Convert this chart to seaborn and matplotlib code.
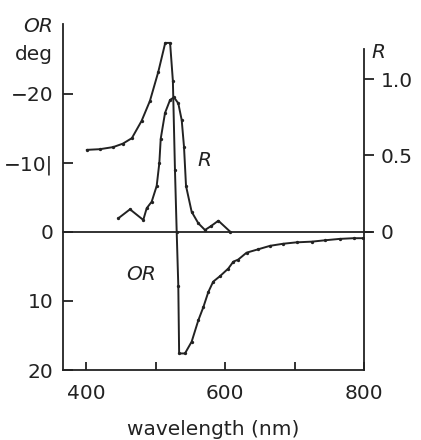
import numpy as np
import matplotlib
matplotlib.use("Agg")
import matplotlib.pyplot as plt
import seaborn as sns

# optical rotation (deg) vs wavelength
or_wavelength = [401, 420, 439, 453, 466, 480, 492, 504, 514, 521, 525, 528, 530.5,
                 532.8, 534, 542.4, 552, 561.6, 568.8, 576, 583, 592.8, 604.7, 612,
                 619, 631, 648, 665, 684, 703, 725, 744, 765, 785, 799]
or_values = [-11.9, -12.0, -12.3, -12.8, -13.6, -16.1, -19.0, -23.2, -27.4, -27.4,
             -21.9, -9.0, 0.0, 7.8, 17.6, 17.6, 15.9, 12.8, 10.9, 8.7, 7.2, 6.4,
             5.3, 4.3, 4.0, 3.0, 2.5, 2.0, 1.7, 1.5, 1.4, 1.2, 1.0, 0.9, 0.9]

# reflectance vs wavelength
r_wavelength = [446.5, 463.3, 482.4, 487.3, 494.5, 501.7, 505.5, 507.5, 513.7, 520.9,
                526.6, 532.8, 537.7, 541, 543.9, 552, 561.6, 571.2, 580, 590.4, 607.2]
r_values = [0.087, 0.146, 0.076, 0.153, 0.196, 0.30, 0.45, 0.61, 0.78, 0.865,
            0.883, 0.843, 0.733, 0.558, 0.30, 0.13, 0.054, 0.01, 0.036, 0.071, 0.0]

or_ticks = [-20, -10, 0, 10, 20]
or_ticklabels = ["\u221220", "\u221210|", "0", "10", "20"]
r_ticks = [0, 0.5, 1.0]
r_ticklabels = ["0", "0.5", "1.0"]
x_ticks = [400, 500, 600, 700, 800]
x_ticklabels = ["400", "", "600", "", "800"]

sns.set_theme(style="ticks")
plt.rcParams["font.family"] = ["DejaVu Sans"]

ink = "#222222"
fs = 14.5
W, H = 421, 440
fig = plt.figure(figsize=(W / 100, H / 100), dpi=100)
ax = fig.add_axes([63 / W, 1 - 370 / H, (364 - 63) / W, (370 - 24) / H])
ax2 = ax.twinx()

sns.lineplot(x=or_wavelength, y=or_values, ax=ax, color=ink, lw=1.4,
             marker="o", markersize=2.4, markeredgewidth=0)
sns.lineplot(x=r_wavelength, y=r_values, ax=ax2, color=ink, lw=1.4,
             marker="o", markersize=2.4, markeredgewidth=0)

ax.set_xlim(366.9, 800)
ax.set_ylim(20, -30.14)
ax2.set_ylim(-0.911, 1.365)

ax.axhline(0, color=ink, lw=1.3, clip_on=False, xmax=1.025)

for a in (ax, ax2):
    a.spines["top"].set_visible(False)
    for s in a.spines.values():
        s.set_color(ink)
        s.set_linewidth(1.3)
ax.spines["right"].set_visible(False)
ax2.spines["left"].set_visible(False)
ax2.spines["bottom"].set_visible(False)
ax2.spines["right"].set_bounds(-0.911, 1.2)

ax.set_xticks(x_ticks)
ax.set_xticklabels(x_ticklabels)
ax.set_yticks(or_ticks)
ax.set_yticklabels(or_ticklabels)
ax.tick_params(axis="x", direction="in", length=6, width=1.3, color=ink,
               labelsize=fs, labelcolor=ink, pad=10)
ax.tick_params(axis="y", direction="in", length=7, width=1.3, color=ink,
               labelsize=fs, labelcolor=ink, pad=7)
ax2.set_yticks(r_ticks)
ax2.set_yticklabels(r_ticklabels)
ax2.tick_params(axis="y", direction="out", length=7, width=1.3, color=ink,
                labelsize=fs, labelcolor=ink, pad=5)
ax.set_xlabel("wavelength (nm)", fontsize=fs, color=ink, labelpad=12)
ax.set_ylabel("")
ax2.set_ylabel("")
ax.grid(False)
ax2.grid(False)

fig.text(53 / W, 1 - 27 / H, "OR", ha="right", va="center", fontsize=fs,
         style="italic", color=ink)
fig.text(53 / W, 1 - 55 / H, "deg", ha="right", va="center", fontsize=fs, color=ink)
fig.text(371 / W, 1 - 52 / H, "R", ha="left", va="center", fontsize=fs,
         style="italic", color=ink)
ax.text(569.8, -10.4, "R", ha="center", va="center", fontsize=fs,
        style="italic", color=ink)
ax.text(479, 6.2, "OR", ha="center", va="center", fontsize=fs,
        style="italic", color=ink)

fig.savefig("out.png", dpi=100)
